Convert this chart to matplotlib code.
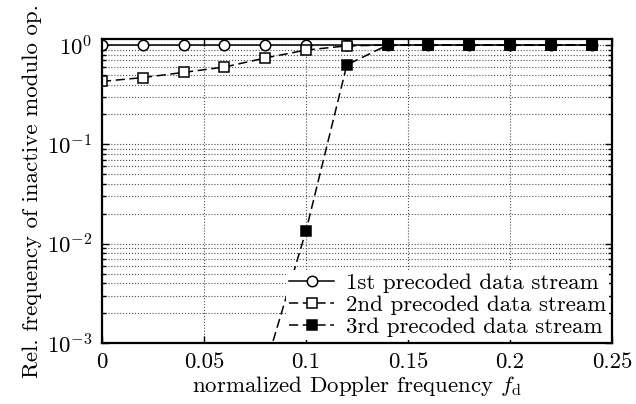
import numpy as np
import matplotlib
matplotlib.use("Agg")
import matplotlib.pyplot as plt
from matplotlib.ticker import LogLocator, NullFormatter

# values
fd = [0, 0.02, 0.04, 0.06, 0.08, 0.10, 0.12, 0.14, 0.16, 0.18, 0.20, 0.22, 0.24]
stream1 = [1.0, 1.0, 1.0, 1.0, 1.0, 1.0, 1.0, 1.0, 1.0, 1.0, 1.0, 1.0, 1.0]
stream2 = [0.43, 0.47, 0.53, 0.60, 0.74, 0.89, 0.98, 1.0, 1.0, 1.0, 1.0, 1.0, 1.0]
fd3 = [0.08, 0.10, 0.12, 0.14, 0.16, 0.18, 0.20, 0.22, 0.24]
stream3 = [5.7e-4, 0.0135, 0.63, 1.0, 1.0, 1.0, 1.0, 1.0, 1.0]

xticks = [0, 0.05, 0.1, 0.15, 0.2, 0.25]
xticklabels = ["0", "0.05", "0.1", "0.15", "0.2", "0.25"]
labels = ["1st precoded data stream", "2nd precoded data stream", "3rd precoded data stream"]

plt.rcParams["font.family"] = ["cmr10", "DejaVu Serif"]
plt.rcParams["mathtext.fontset"] = "cm"
plt.rcParams["axes.formatter.use_mathtext"] = True
plt.rcParams["font.size"] = 16.5

fig = plt.figure(figsize=(6.36, 4.04), dpi=100)
ax = fig.add_axes([0.1604, 0.151, 0.8019, 0.7525])

dash = (6, 3)
ax.plot(fd, stream1, "k-", marker="o", mfc="white", mec="black", ms=7.5, mew=1.1, lw=1.1,
        label=labels[0])
ax.plot(fd, stream2, "k--", dashes=dash, marker="s", mfc="white", mec="black", ms=7.5,
        mew=1.1, lw=1.1, label=labels[1])
ax.plot(fd3, stream3, "k--", dashes=dash, marker="s", mfc="black", mec="black", ms=7.5,
        mew=1.1, lw=1.1, label=labels[2])

ax.set_yscale("log")
ax.set_xlim(0, 0.25)
ax.set_ylim(1e-3, 1.15)
ax.set_xticks(xticks)
ax.set_xticklabels(xticklabels)
ax.yaxis.set_major_locator(LogLocator(base=10, numticks=10))
ax.yaxis.set_minor_locator(LogLocator(base=10, subs=np.arange(2, 10), numticks=10))
ax.yaxis.set_minor_formatter(NullFormatter())

ax.grid(True, which="major", axis="both", ls=":", lw=0.8, color="0.3")
ax.grid(True, which="minor", axis="y", ls=":", lw=0.8, color="0.3")
ax.tick_params(which="both", direction="in", top=True, right=True, width=1.0)
ax.tick_params(which="major", length=5, pad=7)
ax.tick_params(which="minor", length=3)
for s in ax.spines.values():
    s.set_linewidth(1.6)

ax.set_xlabel("normalized Doppler frequency $f_\\mathrm{d}$", labelpad=1)
ax.set_ylabel("Rel. frequency of inactive modulo op.", labelpad=3)

leg = ax.legend(loc="lower right", frameon=True, fancybox=False, edgecolor="none",
                framealpha=1.0, borderpad=0.1, labelspacing=0.1, handlelength=2.0,
                handletextpad=0.5, borderaxespad=0.15)

fig.savefig("out.png", dpi=100)
